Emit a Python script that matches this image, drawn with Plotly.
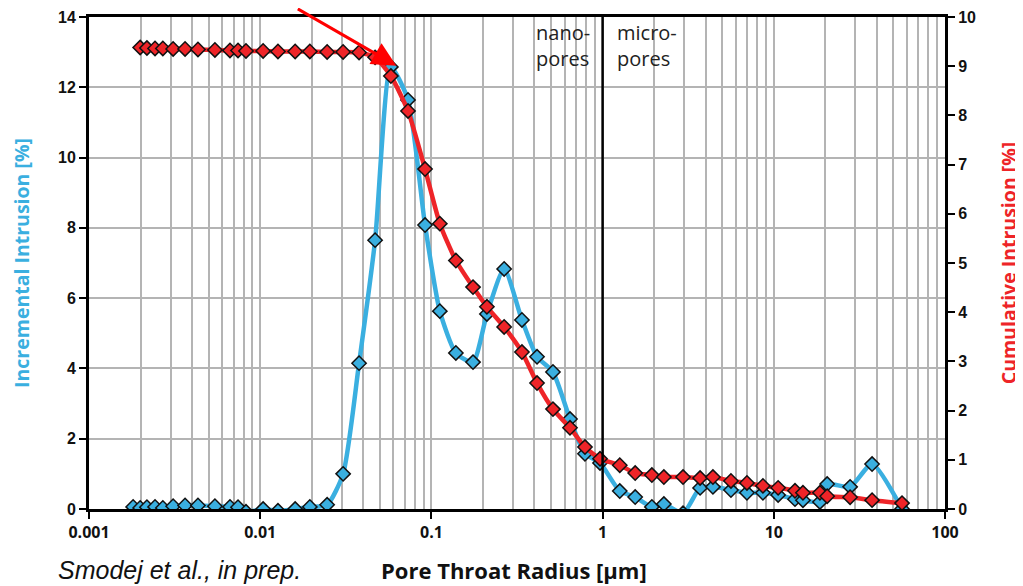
import plotly.graph_objects as go

# pore throat radius [µm], shared by both series
radius = [0.00181, 0.00199, 0.00218, 0.00243, 0.0027, 0.0031, 0.00364, 0.00433, 0.00544, 0.00666,
          0.00742, 0.00826, 0.0104, 0.0127, 0.016, 0.0195, 0.0246, 0.0305, 0.0378, 0.0469,
          0.058, 0.073, 0.0918, 0.112, 0.139, 0.175, 0.211, 0.266, 0.338, 0.414,
          0.513, 0.645, 0.789, 0.966, 1.26, 1.55, 1.94, 2.28, 2.95, 3.71,
          4.41, 5.62, 6.97, 8.64, 10.6, 13.3, 14.8, 18.6, 20.5, 27.9,
          37.5, 56.1]

incremental = [0.06, 0.03, 0.05, 0.06, 0.03, 0.08, 0.10, 0.10, 0.08, 0.06,
               0.05, -0.08, 0.0, -0.05, 0.0, 0.06, 0.12, 1.0, 4.15, 7.65,
               12.58, 11.64, 8.08, 5.63, 4.44, 4.18, 5.55, 6.83, 5.38, 4.33,
               3.9, 2.56, 1.57, 1.31, 0.51, 0.34, 0.06, 0.14, -0.12, 0.6,
               0.63, 0.54, 0.46, 0.46, 0.4, 0.28, 0.25, 0.2, 0.71, 0.63,
               1.28, 0.0]

cumulative = [None, 9.38, 9.37, 9.36, 9.36, 9.35, 9.35, 9.34, 9.33, 9.32,
              9.32, 9.31, 9.31, 9.30, 9.30, 9.30, 9.29, 9.29, 9.28, 9.18,
              8.8, 8.09, 6.91, 5.8, 5.05, 4.51, 4.11, 3.70, 3.19, 2.56,
              2.03, 1.65, 1.26, 1.02, 0.89, 0.73, 0.69, 0.65, 0.65, 0.63,
              0.65, 0.57, 0.53, 0.47, 0.43, 0.37, 0.33, 0.33, 0.26, 0.24,
              0.18, 0.12]

left_ticks = [0, 2, 4, 6, 8, 10, 12, 14]
right_ticks = list(range(0, 11))
x_ticks = [0.001, 0.01, 0.1, 1, 10, 100]
x_labels = ['0.001', '0.01', '0.1', '1', '10', '100']

BLUE = '#3aafe0'
RED = '#ee2428'
GRID = '#b4b4b4'
tick_font = dict(family='Liberation Sans, Arial', size=16, color='#111111', weight='bold')

fig = go.Figure()
fig.add_trace(go.Scatter(
    x=radius, y=incremental, mode='lines+markers', name='Incremental',
    line=dict(color=BLUE, width=4.5, shape='spline', smoothing=0.6),
    marker=dict(symbol='diamond', size=11, color=BLUE, line=dict(color='#111111', width=1.5)),
    yaxis='y'))
fig.add_trace(go.Scatter(
    x=radius, y=cumulative, mode='lines+markers', name='Cumulative',
    line=dict(color=RED, width=4.5, shape='spline', smoothing=0.6),
    marker=dict(symbol='diamond', size=11, color=RED, line=dict(color='#111111', width=1.5)),
    yaxis='y2'))

# page body adds ~8px offset, so the figure is a bit smaller than the window
fig.update_layout(
    width=1015, height=578,
    margin=dict(l=81, r=78, t=9, b=77, autoexpand=False),
    plot_bgcolor='white', paper_bgcolor='white',
    showlegend=False,
    xaxis=dict(
        type='log', range=[-3, 2],
        tickvals=x_ticks, ticktext=x_labels,
        tickfont=dict(family='Open Sans', size=16, color='#111111', weight='bold'),
        ticks='outside', ticklen=7, tickwidth=2, tickcolor='black',
        showline=True, linecolor='black', linewidth=2.5, mirror=True,
        showgrid=True, gridcolor=GRID, gridwidth=2,
        minor=dict(dtick='D1', showgrid=True, gridcolor=GRID, gridwidth=2, ticks=''),
        zeroline=False, automargin=False),
    yaxis=dict(
        range=[0, 14], tickvals=left_ticks,
        tickfont=tick_font,
        ticks='outside', ticklen=7, tickwidth=2, tickcolor='black',
        showline=True, linecolor='black', linewidth=3,
        showgrid=True, gridcolor=GRID, gridwidth=2, zeroline=False, automargin=False,
        title=dict(text='<b>Incremental Intrusion [%]</b>',
                   font=dict(family='Open Sans', size=19.5, color=BLUE), standoff=24)),
    yaxis2=dict(
        range=[0, 10], tickvals=right_ticks,
        overlaying='y', side='right',
        tickfont=tick_font,
        ticks='outside', ticklen=7, tickwidth=2, tickcolor='black',
        showline=True, linecolor='black', linewidth=3,
        showgrid=False, zeroline=False, automargin=False,
        title=dict(text='<b>Cumulative Intrusion [%]</b>',
                   font=dict(family='Open Sans', size=19.5, color=RED), standoff=28)),
)

# nano/micro boundary at 1 µm
fig.add_shape(type='line', xref='paper', yref='paper', x0=0.6, x1=0.6, y0=0, y1=1,
              line=dict(color='black', width=2.5))

fig.add_annotation(xref='paper', yref='paper', x=0.5876, y=1.0, xanchor='right', yanchor='top',
                   text='nano-<br>pores', showarrow=False, align='left',
                   font=dict(family='Open Sans', size=20, color='#222222'))
fig.add_annotation(xref='paper', yref='paper', x=0.6145, y=1.0, xanchor='left', yanchor='top',
                   text='micro-<br>pores', showarrow=False, align='left',
                   font=dict(family='Open Sans', size=20, color='#222222'))

# red pointer arrow
fig.add_annotation(xref='paper', yref='paper', x=0.359, y=0.901, ax=-100, ay=-68,
                   text='', showarrow=True, arrowhead=2, arrowsize=1.6, arrowwidth=3,
                   arrowcolor='#ff0000')

fig.add_annotation(xref='paper', yref='paper', x=0.497, y=-0.124, xanchor='center', yanchor='middle',
                   text='<b>Pore Throat Radius [µm]</b>', showarrow=False,
                   font=dict(family='Open Sans', size=22, color='#111111'))
fig.add_annotation(xref='paper', yref='paper', x=-0.038, y=-0.124, xanchor='left', yanchor='middle',
                   text='<i>Smodej et al., in prep.</i>', showarrow=False,
                   font=dict(family='Liberation Sans, Arial', size=25, color='#111111'))

fig.write_html("out.html")
